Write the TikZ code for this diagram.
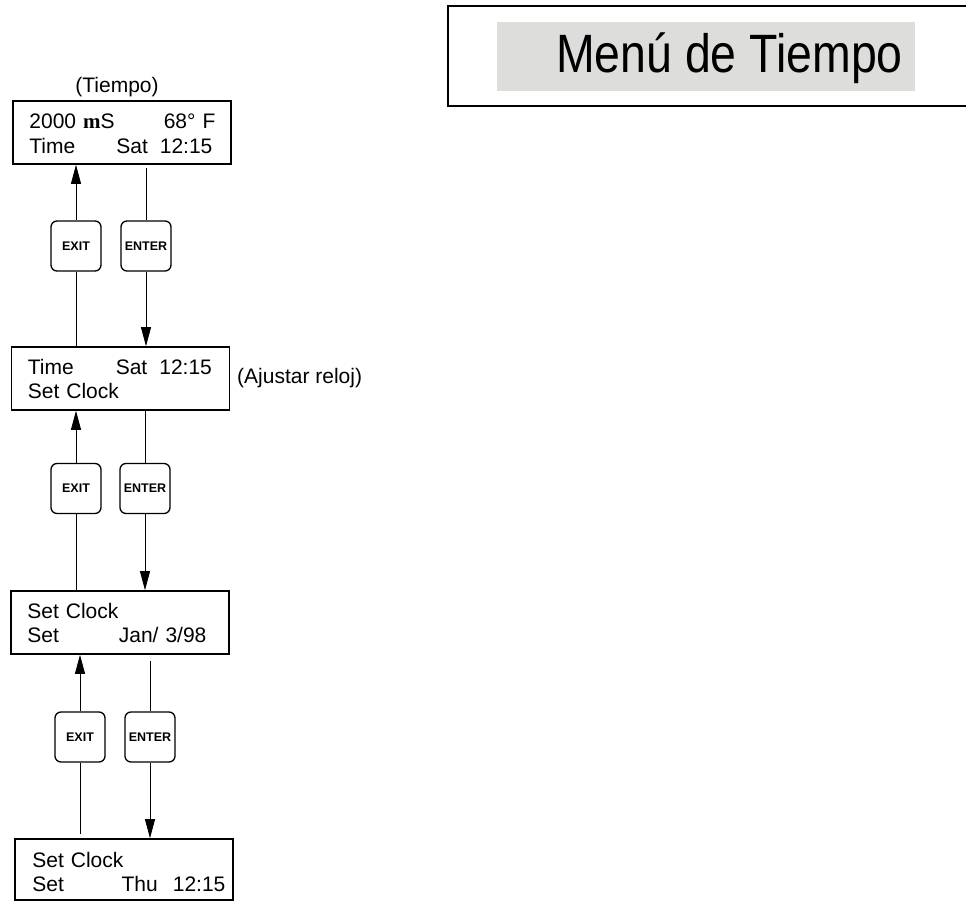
\documentclass[tikz,border=0pt]{standalone}
\usepackage{fontspec}
\usepackage{graphicx}
\setmainfont{Liberation Sans}
\newfontfamily\serifm{Liberation Serif}
\usetikzlibrary{calc, arrows.meta}

\definecolor{titlegray}{RGB}{221,221,220}

\tikzset{
    screen/.style={draw, line width=1.6pt, minimum width=218pt, minimum height=63pt, inner sep=0pt},
    lcdline/.style={anchor=base west, inner sep=0pt, text width=186pt, align=left, font=\fontsize{21}{25}\selectfont},
    label/.style={inner sep=0pt, font=\fontsize{21}{25}\selectfont},
    keybox/.style={draw, line width=1.3pt, rounded corners=6pt, minimum size=50pt, inner sep=0pt, font=\fontsize{12.5}{12.5}\selectfont\bfseries},
    wire/.style={line width=0.8pt},
    arr/.style={wire, -{Triangle[length=19pt, width=10pt]}},
}

\begin{document}
\begin{tikzpicture}[x=1pt, y=-1pt]
    \useasboundingbox (0,0) rectangle (966,901);

    % title
    \draw[line width=1.4pt] (448,6) rectangle (975,106);
    \node[fill=titlegray, minimum width=418pt, minimum height=69pt, inner sep=0pt] (titlebar) at (706,56.5) {};
    \node[anchor=base east, inner sep=0pt, font=\fontsize{54}{54}\selectfont] (title) at (903,73) {\scalebox{0.86}[1]{Menú de Tiempo}};

    % screens
    \node[screen] (s1) at (122,132.5) {};
    \node[label, anchor=base] (tiempo) at (117,93) {(Tiempo)};
    \node[lcdline] (s1a) at ([shift={(17pt,-28pt)}]s1.north west) {2000 {\serifm\bfseries m}S\hfill 68° F};
    \node[lcdline] (s1b) at ([shift={(17pt,-53pt)}]s1.north west) {Time\hfill Sat\hspace{12pt}12:15\kern3pt};

    \node[screen] (s2) at (120.5,378.5) {};
    \node[label, anchor=base west] (ajustar) at (237,383) {(Ajustar reloj)};
    \node[lcdline] (s2a) at ([shift={(17pt,-28pt)}]s2.north west) {Time\hfill Sat\hspace{12pt}12:15\kern2pt};
    \node[lcdline] (s2b) at ([shift={(17pt,-52pt)}]s2.north west) {Set Clock};

    \node[screen] (s3) at (120,622.5) {};
    \node[lcdline] (s3a) at ([shift={(17pt,-28pt)}]s3.north west) {Set Clock};
    \node[lcdline] (s3b) at ([shift={(17pt,-52pt)}]s3.north west) {Set\hfill Jan/ 3/98\kern7pt};

    \node[screen, minimum height=61pt] (s4) at (124,869.5) {};
    \node[lcdline, text width=193pt] (s4a) at ([shift={(18pt,-29pt)}]s4.north west) {Set Clock};
    \node[lcdline, text width=193pt] (s4b) at ([shift={(18pt,-53pt)}]s4.north west) {Set\hfill Thu\hspace{15pt}12:15};

    % keys
    \node[keybox] (x1) at (76,246) {EXIT};
    \node[keybox] (e1) at (146,246) {ENTER};
    \node[keybox] (x2) at (76,488.5) {EXIT};
    \node[keybox] (e2) at (145,488.5) {ENTER};
    \node[keybox] (x3) at (80,737) {EXIT};
    \node[keybox] (e3) at (150,737) {ENTER};

    % links
    \draw[arr] (x1) -- (x1 |- s1.south);
    \draw[wire] (x1) -- (x1 |- s2.north);
    \draw[wire] ([yshift=-3pt]e1 |- s1.south) -- (e1);
    \draw[arr] (e1) -- (e1 |- s2.north);

    \draw[arr] (x2) -- (x2 |- s2.south);
    \draw[wire] (x2) -- (x2 |- s3.north);
    \draw[wire] (e2 |- s2.south) -- (e2);
    \draw[arr] (e2) -- (e2 |- s3.north);

    \draw[arr] (x3) -- (x3 |- s3.south);
    \draw[wire] (x3) -- ([yshift=4pt]x3 |- s4.north);
    \draw[wire] ([yshift=-6pt]e3 |- s3.south) -- (e3);
    \draw[arr] (e3) -- (e3 |- s4.north);
\end{tikzpicture}
\end{document}
